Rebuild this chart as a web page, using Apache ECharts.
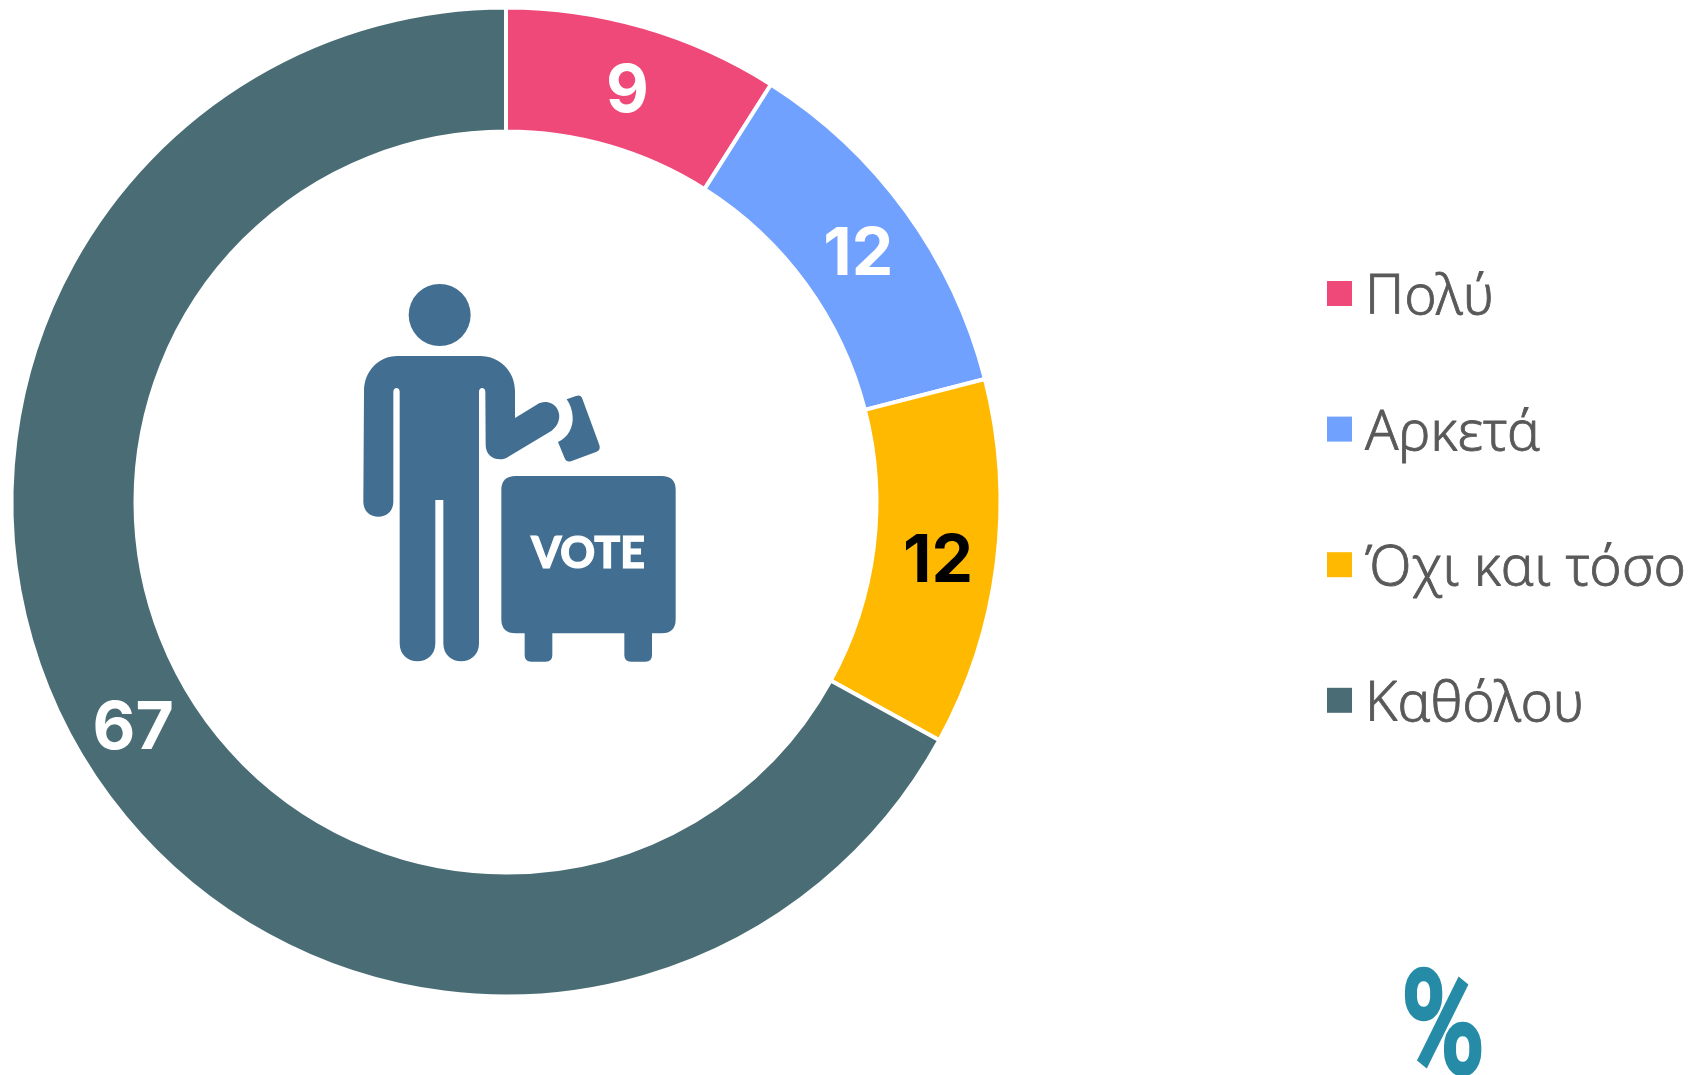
<!DOCTYPE html>
<html lang="el">

<head>
    <meta charset="UTF-8" />
    <title>Pie</title>
    <script src="https://cdn.jsdelivr.net/npm/echarts@6/dist/echarts.min.js"></script>
    <style>
        html, body { margin: 0; padding: 0; background: #fff; }
        #main { width: 1696px; height: 1075px; }
    </style>
</head>

<body>
    <div id="main"></div>

    <script type="text/javascript">
        const categories = ["Πολύ", "Αρκετά", "Όχι και τόσο", "Καθόλου"];
        const values = [9, 12, 12, 67];
        const sliceColors = ["#EF4979", "#70A1FF", "#FFB900", "#4A6D75"];
        const labelColors = ["#fff", "#fff", "#000", "#fff"];
        // nudges so the numbers sit where the original has them
        const labelNudges = [[0, 8], [0, 9], [0, 6], [2, 5]];

        // voter icon, path coordinates are in a 3x space (see group scale below)
        const iconColor = "#426F91";
        const bodyPath = "M172 288 L420 288 C480 288 525 335 525 393 L525 474 L590 434 C610 420 640 425 652 447 C665 470 655 497 635 512 L505 590 C480 608 437 595 437 555 L436 395 C436 380 417 380 417 395 L417 1150 C417 1222 310 1222 310 1150 L310 720 L286 720 L286 1150 C286 1222 179 1222 179 1150 L179 395 C179 380 160 380 160 395 L160 725 C160 785 70 785 70 725 L72 393 C72 335 115 288 172 288 Z";
        const ballotPath = "M680 418 L708 408 Q722 403 727 416 L778 555 Q783 570 770 575 L695 603 Q680 609 674 595 L654 546 C685 532 700 500 698 470 C697 450 690 432 680 418 Z";
        const boxPath = "M527 648 L965 648 Q1007 648 1007 690 L1007 1078 Q1007 1120 965 1120 L936 1120 L936 1185 Q936 1205 916 1205 L873 1205 Q853 1205 853 1185 L853 1120 L637 1120 L637 1185 Q637 1205 617 1205 L574 1205 Q554 1205 554 1185 L554 1120 L527 1120 Q484 1120 484 1078 L484 690 Q484 648 527 648 Z";

        let myChart = echarts.init(document.getElementById("main"));

        // the icon goes through a custom series because graphic has no path type
        function renderVoterIcon() {
            return {
                type: "group",
                x: 340,
                y: 260,
                scaleX: 1 / 3,
                scaleY: 1 / 3,
                children: [
                    { type: "circle", shape: { cx: 299, cy: 165, r: 93 }, style: { fill: iconColor } },
                    { type: "path", shape: { pathData: bodyPath }, style: { fill: iconColor } },
                    { type: "path", shape: { pathData: ballotPath }, style: { fill: iconColor } },
                    { type: "path", shape: { pathData: boxPath }, style: { fill: iconColor } },
                ],
            };
        }

        let options = {
            animation: false,
            backgroundColor: "#fff",
            legend: {
                orient: "vertical",
                left: 1327,
                top: 261,
                padding: 0,
                itemWidth: 25,
                itemHeight: 25,
                itemGap: 70.2,
                icon: "rect",
                selectedMode: false,
                data: categories,
                itemStyle: { borderWidth: 0 },
                // rich text, plain textStyle padding does not move the text down
                formatter: (name) => `{t|${name}}`,
                textStyle: {
                    rich: {
                        t: {
                            fontFamily: "Noto Sans",
                            fontWeight: 300,
                            fontSize: 55,
                            lineHeight: 60,
                            color: "#595959",
                            textBorderColor: "#595959",
                            textBorderWidth: 0.8,
                            padding: [10, 0, 0, 8],
                        },
                    },
                },
            },
            series: [
                {
                    type: "pie",
                    center: [506, 502],
                    radius: [370.5, 494.5],
                    startAngle: 90,
                    clockwise: true,
                    silent: true,
                    itemStyle: { borderColor: "#fff", borderWidth: 4 },
                    labelLine: { show: false },
                    data: categories.map((name, i) => ({
                        name: name,
                        value: values[i],
                        itemStyle: { color: sliceColors[i] },
                        label: {
                            show: true,
                            position: "inside",
                            formatter: "{c}",
                            offset: labelNudges[i],
                            fontFamily: "Inter",
                            fontWeight: 700,
                            fontSize: 66,
                            color: labelColors[i],
                            textBorderWidth: 0,
                        },
                    })),
                },
                {
                    type: "custom",
                    coordinateSystem: "none",
                    silent: true,
                    data: [0],
                    renderItem: renderVoterIcon,
                },
            ],
            graphic: [
                {
                    type: "text",
                    x: 588,
                    y: 554,
                    z: 10,
                    style: {
                        text: "VOTE",
                        fill: "#fff",
                        stroke: "#fff",
                        lineWidth: 1.2,
                        font: "900 43px Lato",
                        textAlign: "center",
                        textVerticalAlign: "middle",
                    },
                },
                {
                    type: "text",
                    x: 1443,
                    y: 1037,
                    scaleX: 1.15,
                    scaleY: 1.45,
                    originX: 0,
                    originY: 0,
                    style: {
                        text: "%",
                        fill: "#268BA6",
                        stroke: "#268BA6",
                        lineWidth: 6,
                        lineJoin: "round",
                        font: "300 95px Roboto",
                        textAlign: "center",
                        textVerticalAlign: "middle",
                    },
                },
            ],
        };

        myChart.setOption(options);
    </script>
</body>

</html>
